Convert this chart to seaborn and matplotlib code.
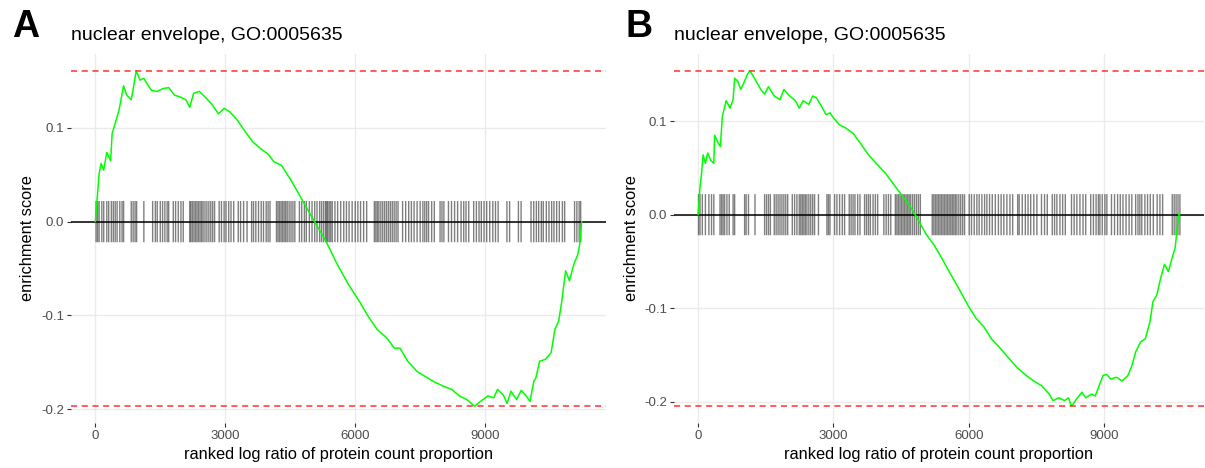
import numpy as np
import pandas as pd
import matplotlib
matplotlib.use("Agg")
import matplotlib.pyplot as plt
import seaborn as sns

# ---------------- data ----------------
title_text = "nuclear envelope, GO:0005635"
x_label = "ranked log ratio of protein count proportion"
y_label = "enrichment score"
x_ticks = [0, 3000, 6000, 9000]
y_ticks = [-0.2, -0.1, 0.0, 0.1]
y_tick_labels = ["-0.2", "-0.1", "0.0", "0.1"]

# Panel A running enrichment score
rank_a = [0, 88, 132, 194, 265, 353, 388, 459, 547, 653, 723, 829, 882, 944, 1032, 1120,
          1209, 1297, 1429, 1561, 1694, 1826, 1959, 2091, 2179, 2268, 2400, 2576, 2709,
          2841, 2974, 3106, 3282, 3459, 3635, 3812, 3988, 4121, 4297, 4518, 4782, 5047,
          5312, 5577, 5841, 6106, 6282, 6503, 6724, 6900, 7032, 7209, 7429, 7606, 7782,
          8047, 8224, 8400, 8576, 8753, 8885, 9062, 9194, 9282, 9415, 9503, 9591, 9724,
          9830, 9944, 10032, 10121, 10165, 10253, 10385, 10518, 10606, 10694, 10765,
          10853, 10941, 11047, 11135, 11179, 11224]
es_a = [0.0, 0.051, 0.062, 0.055, 0.074, 0.065, 0.094, 0.105, 0.119, 0.145, 0.135, 0.130,
        0.144, 0.161, 0.151, 0.153, 0.146, 0.140, 0.139, 0.142, 0.143, 0.135, 0.133, 0.130,
        0.122, 0.137, 0.139, 0.131, 0.124, 0.115, 0.121, 0.117, 0.108, 0.096, 0.085, 0.078,
        0.072, 0.064, 0.060, 0.044, 0.0225, 0.001, -0.020, -0.045, -0.067, -0.086, -0.100,
        -0.115, -0.124, -0.135, -0.135, -0.149, -0.160, -0.165, -0.170, -0.176, -0.179,
        -0.186, -0.190, -0.197, -0.192, -0.186, -0.188, -0.179, -0.185, -0.194, -0.181,
        -0.190, -0.180, -0.186, -0.192, -0.170, -0.167, -0.149, -0.147, -0.140, -0.115,
        -0.106, -0.085, -0.0525, -0.063, -0.045, -0.035, -0.024, 0.0]

# Panel A gene-set hit positions
hits_a = [18, 53, 88, 150, 194, 265, 309, 370, 415, 459, 503, 565, 617, 653, 829, 873, 917,
          953, 1120, 1323, 1385, 1429, 1499, 1552, 1605, 1658, 1693, 1799, 1852, 1914, 1976,
          2029, 2179, 2205, 2240, 2276, 2311, 2346, 2381, 2417, 2452, 2487, 2531, 2575, 2620,
          2664, 2708, 2752, 2858, 2911, 2972, 3016, 3078, 3131, 3193, 3299, 3352, 3422, 3502,
          3607, 3651, 3704, 3766, 3828, 3881, 3943, 3987, 4031, 4181, 4216, 4251, 4287, 4322,
          4357, 4392, 4428, 4472, 4516, 4560, 4604, 4710, 4763, 4825, 4869, 4939, 5001, 5063,
          5116, 5177, 5221, 5266, 5310, 5336, 5363, 5398, 5433, 5468, 5530, 5592, 5662, 5733,
          5795, 5856, 5927, 5998, 6059, 6121, 6192, 6262, 6439, 6474, 6509, 6544, 6589, 6633,
          6677, 6721, 6765, 6809, 6853, 6897, 6941, 6985, 7091, 7162, 7232, 7294, 7356, 7426,
          7497, 7559, 7603, 7647, 7691, 7762, 7823, 7956, 8000, 8044, 8150, 8220, 8291, 8361,
          8441, 8502, 8555, 8617, 8732, 8794, 8855, 8908, 8970, 9032, 9102, 9173, 9235, 9296,
          9499, 9561, 9764, 9826, 10055, 10117, 10178, 10231, 10293, 10337, 10408, 10469,
          10531, 10584, 10646, 10708, 10779, 10831, 11060, 11113, 11166, 11201]

# Panel B running enrichment score
rank_b = [0, 43, 77, 111, 162, 213, 281, 349, 366, 452, 494, 537, 622, 707, 776, 810, 878,
          946, 1014, 1091, 1150, 1261, 1389, 1474, 1560, 1688, 1815, 1901, 2029, 2156, 2242,
          2327, 2455, 2540, 2625, 2710, 2838, 2923, 3009, 3136, 3264, 3435, 3605, 3776, 3946,
          4159, 4372, 4543, 4713, 4884, 5054, 5224, 5395, 5565, 5779, 5992, 6162, 6333, 6503,
          6716, 6929, 7100, 7270, 7441, 7611, 7782, 7867, 7995, 8122, 8208, 8276, 8378, 8506,
          8591, 8719, 8804, 8889, 8975, 9060, 9145, 9273, 9400, 9528, 9613, 9698, 9809, 9911,
          10014, 10082, 10167, 10252, 10338, 10423, 10508, 10576, 10619, 10662, 10679]
es_b = [0.0, 0.030, 0.044, 0.064, 0.055, 0.066, 0.058, 0.055, 0.085, 0.076, 0.073, 0.105,
        0.122, 0.114, 0.123, 0.146, 0.143, 0.134, 0.141, 0.150, 0.154, 0.145, 0.134, 0.129,
        0.137, 0.127, 0.123, 0.134, 0.127, 0.122, 0.114, 0.122, 0.118, 0.127, 0.125, 0.118,
        0.107, 0.109, 0.103, 0.096, 0.093, 0.087, 0.076, 0.064, 0.055, 0.044, 0.030, 0.019,
        0.008, -0.006, -0.021, -0.032, -0.046, -0.061, -0.079, -0.098, -0.111, -0.120,
        -0.133, -0.144, -0.156, -0.165, -0.172, -0.178, -0.183, -0.192, -0.199, -0.196,
        -0.199, -0.196, -0.205, -0.198, -0.190, -0.196, -0.192, -0.194, -0.183, -0.172,
        -0.171, -0.176, -0.174, -0.178, -0.172, -0.162, -0.147, -0.136, -0.133, -0.115,
        -0.093, -0.086, -0.068, -0.053, -0.061, -0.046, -0.035, -0.014, 0.001, 0.0]

# Panel B gene-set hit positions
hits_b = [9, 43, 94, 162, 239, 298, 349, 486, 520, 554, 588, 639, 690, 776, 810, 1031, 1065,
          1117, 1261, 1474, 1517, 1560, 1602, 1688, 1730, 1773, 1815, 1858, 1901, 1943, 1986,
          2088, 2139, 2190, 2242, 2276, 2310, 2344, 2378, 2412, 2455, 2497, 2540, 2582, 2668,
          2855, 2889, 2923, 3026, 3077, 3136, 3196, 3247, 3350, 3392, 3435, 3477, 3537, 3588,
          3690, 3733, 3776, 3818, 3878, 3929, 3980, 4117, 4168, 4219, 4270, 4372, 4406, 4440,
          4475, 4509, 4543, 4577, 4611, 4645, 4679, 4713, 4756, 4798, 4841, 4884, 4926, 5190,
          5224, 5259, 5293, 5327, 5361, 5395, 5429, 5463, 5497, 5531, 5565, 5600, 5634, 5668,
          5702, 5736, 5779, 5821, 5864, 5906, 6009, 6060, 6120, 6179, 6230, 6290, 6350, 6401,
          6460, 6520, 6588, 6656, 6716, 6776, 6844, 6912, 6972, 7083, 7117, 7185, 7253, 7313,
          7372, 7441, 7509, 7611, 7679, 7739, 7850, 7901, 7952, 8020, 8080, 8139, 8276, 8335,
          8395, 8463, 8532, 8591, 8702, 8762, 8821, 8872, 8906, 8958, 9017, 9060, 9162, 9230,
          9298, 9357, 9417, 9485, 9553, 9613, 9698, 9750, 9791, 9834, 9903, 9962, 10022,
          10090, 10175, 10236, 10296, 10509, 10552, 10594, 10637, 10679]

panel_letters = ["A", "B"]
tick_half_height = 0.022

# ---------------- style ----------------
sns.set_theme(style="whitegrid")
plt.rcParams["font.family"] = ["Liberation Sans", "DejaVu Sans"]

fig = plt.figure(figsize=(12.05, 4.68), dpi=100)
W, H = 1205.0, 468.0
panels = [
    dict(left=71, right=606, rank=rank_a, es=es_a, hits=hits_a, letter_x=12, title_x=71),
    dict(left=674, right=1204, rank=rank_b, es=es_b, hits=hits_b, letter_x=626, title_x=674),
]
top_px, bottom_px = 54, 423

for i, p in enumerate(panels):
    ax = fig.add_axes([p["left"] / W, 1 - bottom_px / H,
                       (p["right"] - p["left"]) / W, (bottom_px - top_px) / H])
    ax.set_facecolor("white")
    df = pd.DataFrame({"rank": p["rank"], "es": p["es"]})
    n = max(p["rank"])
    ymin, ymax = min(p["es"]), max(p["es"])

    # hit ticks
    hl = ax.vlines(p["hits"], -tick_half_height, tick_half_height, color="black",
                   alpha=0.5, linewidth=1.0, zorder=2)
    hl.set_snap(False)
    # zero line
    ax.axhline(0, color="black", linewidth=1.1, zorder=3)
    # running ES
    sns.lineplot(data=df, x="rank", y="es", ax=ax, color="#00FF00", linewidth=1.1,
                 zorder=4, estimator=None, sort=False)
    # max / min lines
    ax.axhline(ymax, color="#FF3030", linestyle=(0, (4, 3)), linewidth=1.1, zorder=5)
    ax.axhline(ymin, color="#FF3030", linestyle=(0, (4, 3)), linewidth=1.1, zorder=5)

    ax.set_xlim(-0.05 * n, 1.05 * n)
    rng = ymax - ymin
    ax.set_ylim(ymin - 0.05 * rng, ymax + 0.05 * rng)
    ax.set_xticks(x_ticks)
    ax.set_xticklabels([str(t) for t in x_ticks])
    ax.set_yticks(y_ticks)
    ax.set_yticklabels(y_tick_labels)
    ax.grid(True, color="#EBEBEB", linewidth=1.0)
    ax.set_axisbelow(True)
    for s in ax.spines.values():
        s.set_visible(False)
    ax.tick_params(axis="both", which="major", length=3, width=0.8, color="#333333",
                   labelsize=9.5, labelcolor="#4D4D4D", pad=2, direction="out",
                   bottom=True, left=True)
    ax.set_xlabel(x_label, fontsize=11.8, color="black", labelpad=4)
    ax.set_ylabel(y_label, fontsize=11.8, color="black", labelpad=4)

    fig.text(p["title_x"] / W, 1 - 35 / H, title_text, fontsize=14, color="black",
             ha="left", va="center")
    fig.text(p["letter_x"] / W, 1 - 27 / H, panel_letters[i], fontsize=27,
             fontweight="bold", color="black", ha="left", va="center")

fig.savefig("out.png", dpi=100, facecolor="white")
